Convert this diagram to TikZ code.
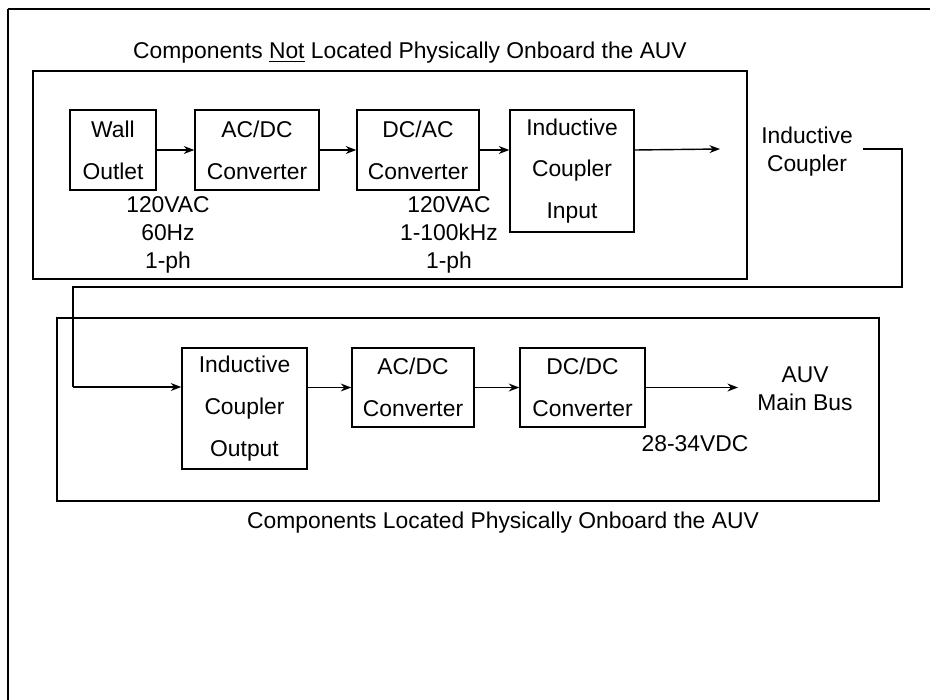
\documentclass[tikz,border=0pt]{standalone}
\usepackage{fontspec}
\setmainfont{Liberation Sans}
\usepackage{tikz}
\usetikzlibrary{arrows.meta,positioning,calc}

\tikzset{
  blk/.style={draw, line width=0.8pt, inner sep=0pt, align=center,
    font=\fontsize{13}{23.8}\selectfont},
  lbl/.style={inner sep=0pt, align=center, font=\fontsize{13}{15.9}\selectfont},
  frame/.style={draw, line width=0.8pt},
}

\begin{document}
\begin{tikzpicture}[x=0.02cm, y=-0.02cm, >={Stealth[length=6pt,width=4.5pt]}, line width=0.8pt]
  \useasboundingbox (0,0) rectangle (930,700);

  % outer frame (only top and left edges show)
  \draw (8,9) -- (930,9);
  \draw (8,9) -- (8,700);

  % shore-side group
  \draw[frame] (33,71) rectangle (747,279);
  \node[lbl] (toptitle) at (410,53) {Components \underline{Not} Located Physically Onboard the AUV};

  \node[blk, minimum width=1.72cm, minimum height=1.6cm] (wall) at (113,150) {Wall\\Outlet};
  \node[blk, minimum width=2.48cm, minimum height=1.6cm] (acdc) at (257,150) {AC/DC\\Converter};
  \node[blk, minimum width=2.44cm, minimum height=1.6cm] (dcac) at (418,150) {DC/AC\\Converter};
  \node[blk, minimum width=2.48cm, minimum height=2.44cm] (icin) at (572,171) {Inductive\\Coupler\\Input};

  \node[lbl] (wallspec) at (168,235) {120VAC\\60Hz\\1-ph};
  \node[lbl] (dcacspec) at (449,235) {120VAC\\1-100kHz\\1-ph};

  \draw[->] (wall) -- (acdc);
  \draw[->] (acdc) -- (dcac);
  \draw[->] (dcac.east) -- (dcac.east -| icin.west);
  \coordinate (cplend) at (720,149);
  \draw[->] (dcac.east -| icin.east) -- (cplend);

  % inductive coupler link
  \node[lbl] (cplr) at (807,152) {Inductive\\Coupler};
  \coordinate (lnk0) at (863,149);
  \coordinate (lnk1) at (902,149);
  \coordinate (lnk2) at (902,287);
  \coordinate (lnk3) at (73,287);
  \coordinate (lnk4) at (73,387);

  % onboard group
  \draw[frame] (57,318) rectangle (879,501);
  \node[lbl] (bottitle) at (503,523) {Components Located Physically Onboard the AUV};

  \node[blk, minimum width=2.5cm, minimum height=2.42cm] (icout) at (244.5,408.5) {Inductive\\Coupler\\Output};
  \node[blk, minimum width=2.44cm, minimum height=1.58cm] (acdcb) at (413,387.5) {AC/DC\\Converter};
  \node[blk, minimum width=2.5cm, minimum height=1.58cm] (dcdc) at (582.5,387.5) {DC/DC\\Converter};

  \draw (lnk0) -- (lnk1) -- (lnk2) -- (lnk3) -- (lnk4);
  \draw[->] (lnk4) -- (lnk4 -| icout.west);
  \draw[->] (acdcb.west -| icout.east) -- (acdcb.west);
  \draw[->] (acdcb) -- (dcdc);

  \coordinate (busend) at (738,387.5);
  \draw[->] (dcdc) -- (busend);
  \node[lbl] (bus) at (805,389) {AUV\\Main Bus};
  \node[lbl] (dcspec) at (695,444) {28-34VDC};
\end{tikzpicture}
\end{document}
